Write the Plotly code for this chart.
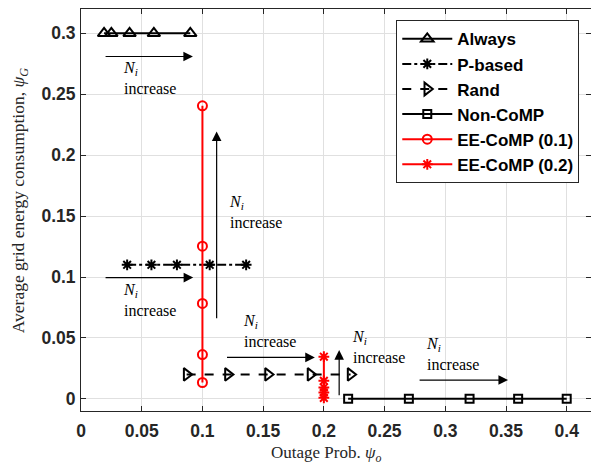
import plotly.graph_objects as go

# ---- data ----
always_x = [0.019, 0.025, 0.040, 0.060, 0.090]
always_y = [0.300, 0.300, 0.300, 0.300, 0.300]

pbased_x = [0.038, 0.058, 0.079, 0.106, 0.136]
pbased_y = [0.110, 0.110, 0.110, 0.110, 0.110]

rand_x = [0.087, 0.121, 0.154, 0.189, 0.222]
rand_y = [0.020, 0.020, 0.020, 0.020, 0.020]

noncomp_x = [0.220, 0.270, 0.320, 0.360, 0.400]
noncomp_y = [0.000, 0.000, 0.000, 0.000, 0.000]

ee01_x = [0.100, 0.100, 0.100, 0.100, 0.100]
ee01_y = [0.2405, 0.1253, 0.0783, 0.0363, 0.0134]

ee02_x = [0.200, 0.200, 0.200, 0.200, 0.200]
ee02_y = [0.0346, 0.0148, 0.0093, 0.0052, 0.0008]

# arrows: (head_x, head_y, tail_x, tail_y)
arrows = [
    (0.0922, 0.281, 0.019, 0.281),
    (0.0924, 0.0995, 0.019, 0.0995),
    (0.1117, 0.2195, 0.1117, 0.065),
    (0.1926, 0.034, 0.119, 0.034),
    (0.2126, 0.040, 0.2126, 0.0016),
    (0.3517, 0.0154, 0.2776, 0.0154),
]
# text labels: (x, y)
labels = [
    (0.0327, 0.263),
    (0.0327, 0.0808),
    (0.1200, 0.1533),
    (0.1320, 0.0560),
    (0.2214, 0.0423),
    (0.2823, 0.0370),
]

fig = go.Figure()

def add(name, x, y, color, dash, symbol, size, group):
    fig.add_trace(go.Scatter(
        x=x, y=y, name=f"<b>{name}</b>", mode="lines+markers",
        legendgroup=group,
        line=dict(color=color, width=2, dash=dash),
        marker=dict(symbol=symbol, size=size, color=color,
                    line=dict(color=color, width=2)),
    ))

add("Always", always_x, always_y, "black", "solid", "triangle-up-open", 11, "a")
add("P-based", pbased_x, pbased_y, "black", "dashdot", "asterisk-open", 9, "b")
add("Rand", rand_x, rand_y, "black", "dash", "triangle-right-open", 11, "c")
add("Non-CoMP", noncomp_x, noncomp_y, "black", "solid", "square-open", 8, "d")
add("EE-CoMP (0.1)", ee01_x, ee01_y, "red", "solid", "circle-open", 9, "e")
add("EE-CoMP (0.2)", ee02_x, ee02_y, "red", "solid", "asterisk-open", 9, "f")

for hx, hy, tx, ty in arrows:
    fig.add_annotation(x=hx, y=hy, ax=tx, ay=ty, xref="x", yref="y",
                       axref="x", ayref="y", text="", showarrow=True,
                       arrowhead=2, arrowsize=1.6, arrowwidth=1.2,
                       arrowcolor="black", standoff=0)

for lx, ly in labels:
    fig.add_annotation(x=lx, y=ly, xref="x", yref="y", showarrow=False,
                       text="<i>N</i><sub><i>i</i></sub><br>increase",
                       xanchor="left", yanchor="middle", align="left",
                       font=dict(family="Liberation Serif", size=16, color="black"))

# axis titles
fig.add_annotation(x=0.482, y=-0.107, xref="paper", yref="paper", showarrow=False,
                   text="Outage Prob. <i>ψ</i><sub><i>o</i></sub>",
                   xanchor="center", yanchor="middle",
                   font=dict(family="Liberation Serif", size=17, color="#262626"))
fig.add_annotation(x=-0.119, y=0.525, xref="paper", yref="paper", showarrow=False,
                   text="Average grid energy consumption, <i>ψ</i><sub><i>G</i></sub>",
                   textangle=-90, xanchor="center", yanchor="middle",
                   font=dict(family="Liberation Serif", size=17.5, color="#262626"))

axis_common = dict(
    showline=True, linecolor="#262626", linewidth=1, mirror="ticks",
    ticks="inside", ticklen=5, tickcolor="#262626",
    showgrid=True, gridcolor="#e0e0e0", gridwidth=1, zeroline=False,
    tickfont=dict(family="Liberation Sans", size=17.5, color="#262626", weight="bold"),
    dtick=0.05, automargin=False,
)

fig.update_xaxes(range=[0, 0.42], tick0=0, ticklabelstandoff=4, **axis_common)
fig.update_yaxes(range=[-0.01, 0.32], tick0=0, ticklabelstandoff=1, **axis_common)

fig.update_layout(
    width=591, height=464,
    margin=dict(l=81, r=0, t=9, b=53),
    paper_bgcolor="white", plot_bgcolor="white",
    legend=dict(x=0.977, y=0.972, xanchor="right", yanchor="top",
                bgcolor="white", bordercolor="#262626", borderwidth=1,
                font=dict(family="Liberation Sans", size=17, color="black"),
                traceorder="grouped", tracegroupgap=0, itemwidth=50),
    showlegend=True,
)

fig.write_html("out.html", config={"displayModeBar": False},
               post_script="document.body.style.margin='0';")
